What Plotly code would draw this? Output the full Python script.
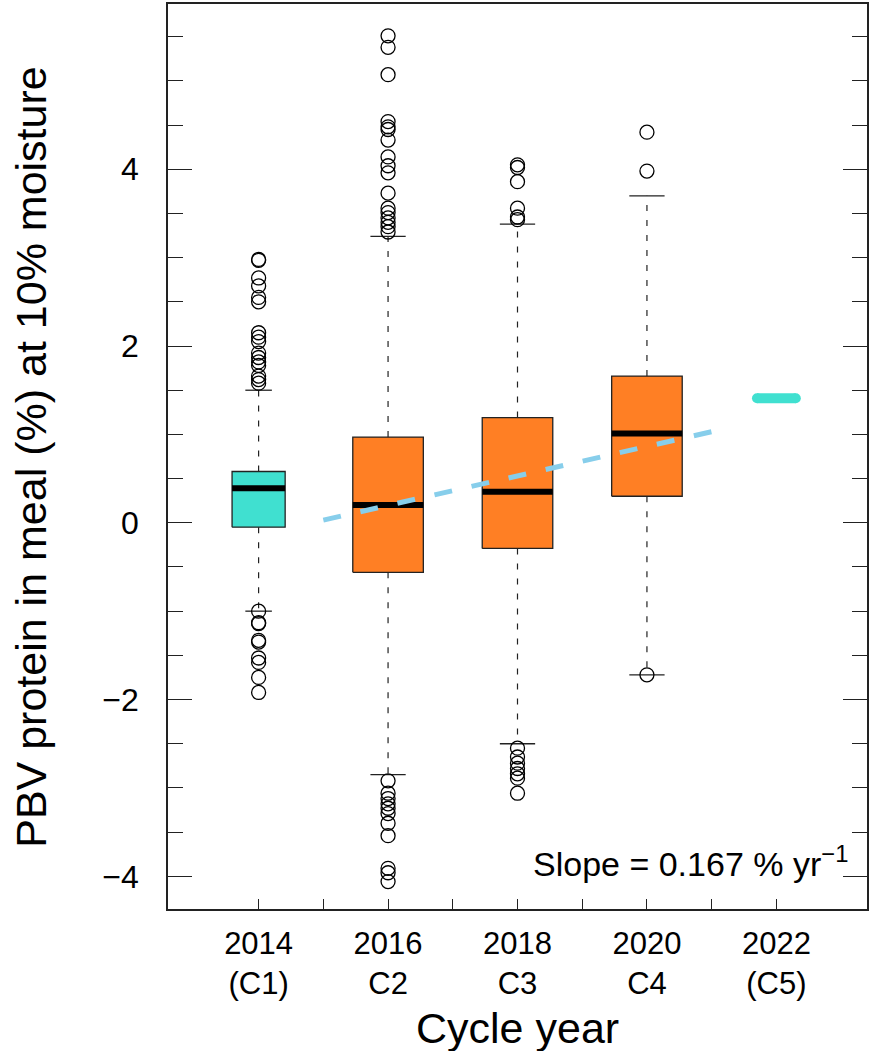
import plotly.graph_objects as go

# ---------------- data ----------------
years = [2014, 2016, 2018, 2020]
cycle_labels = ["2014<br>(C1)", "2016<br>C2", "2018<br>C3", "2020<br>C4", "2022<br>(C5)"]
label_years = [2014, 2016, 2018, 2020, 2022]
minor_years = [2015, 2017, 2019, 2021]
box_colors = ["#40E0D0", "#FF7F24", "#FF7F24", "#FF7F24"]
box_widths = [0.82, 1.09, 1.09, 1.09]

q1 = [-0.05, -0.56, -0.29, 0.30]
median = [0.39, 0.20, 0.35, 1.01]
q3 = [0.58, 0.97, 1.19, 1.66]
whisk_low = [-1.00, -2.85, -2.50, -1.72]
whisk_high = [1.50, 3.24, 3.38, 3.70]

outliers = {
    2014: [2.98, 2.97, 2.77, 2.68, 2.55, 2.50, 2.15, 2.10, 2.05, 1.92, 1.87, 1.82, 1.78, 1.66, 1.62, 1.58,
           -1.00, -1.13, -1.14, -1.33, -1.35, -1.53, -1.58, -1.75, -1.92],
    2016: [5.51, 5.38, 5.07, 4.54, 4.48, 4.45, 4.33, 4.14, 4.04, 3.96, 3.73, 3.56, 3.51, 3.45, 3.40, 3.35, 3.29,
           -2.92, -3.06, -3.12, -3.18, -3.23, -3.29, -3.40, -3.54, -3.91, -3.96, -4.06],
    2018: [4.05, 4.02, 3.86, 3.56, 3.46, 3.43,
           -2.55, -2.65, -2.72, -2.78, -2.84, -2.89, -3.06],
    2020: [4.42, 3.98, -1.72],
}

trend_x = [2015, 2021]
trend_y = [0.03, 1.03]

pred_year = 2022
pred_value = 1.41

slope_text = "Slope = 0.167 % yr<sup>−1</sup>"

# ---------------- figure ----------------
FONT = "Liberation Sans, Arial, sans-serif"
DARK = "#222222"
fig = go.Figure()

# boxes
for yr, lo, hi, w, col in zip(years, q1, q3, box_widths, box_colors):
    fig.add_trace(go.Scatter(
        x=[yr - w / 2, yr + w / 2, yr + w / 2, yr - w / 2, yr - w / 2],
        y=[lo, lo, hi, hi, lo],
        mode="lines", fill="toself", fillcolor=col,
        line=dict(color=DARK, width=1.3), hoverinfo="skip", showlegend=False))

# whiskers (dashed)
wx, wy = [], []
for yr, lo, hi, wl, wh in zip(years, q1, q3, whisk_low, whisk_high):
    wx += [yr, yr, None, yr, yr, None]
    wy += [hi, wh, None, lo, wl, None]
fig.add_trace(go.Scatter(x=wx, y=wy, mode="lines",
                         line=dict(color=DARK, width=1.2, dash="6px,9px"),
                         hoverinfo="skip", showlegend=False))

# caps
cx, cy = [], []
for yr, w, wl, wh in zip(years, box_widths, whisk_low, whisk_high):
    cx += [yr - w / 4, yr + w / 4, None, yr - w / 4, yr + w / 4, None]
    cy += [wh, wh, None, wl, wl, None]
fig.add_trace(go.Scatter(x=cx, y=cy, mode="lines",
                         line=dict(color=DARK, width=1.3),
                         hoverinfo="skip", showlegend=False))

# medians
mx, my = [], []
for yr, w, m in zip(years, box_widths, median):
    mx += [yr - w / 2, yr + w / 2, None]
    my += [m, m, None]
fig.add_trace(go.Scatter(x=mx, y=my, mode="lines",
                         line=dict(color="black", width=6),
                         hoverinfo="skip", showlegend=False))

# outliers
ox, oy = [], []
for yr in years:
    ox += [yr] * len(outliers[yr])
    oy += outliers[yr]
fig.add_trace(go.Scatter(x=ox, y=oy, mode="markers",
                         marker=dict(symbol="circle-open", size=14,
                                     line=dict(color="black", width=1.3), color="black"),
                         hoverinfo="skip", showlegend=False))

# trend line
fig.add_trace(go.Scatter(x=trend_x, y=trend_y, mode="lines",
                         line=dict(color="#87CEEB", width=5, dash="18px,20px"),
                         hoverinfo="skip", showlegend=False))

# 2022 predicted value
fig.add_trace(go.Scatter(x=[pred_year - 0.3, pred_year + 0.3], y=[pred_value, pred_value],
                         mode="lines+markers",
                         line=dict(color="#40E0D0", width=10),
                         marker=dict(color="#40E0D0", size=10, symbol="circle"),
                         hoverinfo="skip", showlegend=False))

fig.update_layout(
    width=871, height=1051,
    margin=dict(l=168, r=2, t=4, b=142),
    plot_bgcolor="white", paper_bgcolor="white",
    font=dict(family=FONT, color="black"),
    xaxis=dict(range=[2012.6, 2023.4], tickmode="array", tickvals=label_years, ticktext=cycle_labels,
               ticks="inside", ticklen=10, tickwidth=1.2, tickcolor=DARK,
               minor=dict(tickmode="array", tickvals=minor_years, ticks="inside", ticklen=10,
                          tickwidth=1.2, tickcolor=DARK),
               showline=True, linecolor=DARK, linewidth=1.5, mirror=True,
               showgrid=False, zeroline=False, tickfont=dict(size=31, family=FONT),
               ticklabelstandoff=6),
    yaxis=dict(range=[-4.37, 5.87], tickmode="linear", tick0=0, dtick=2,
               ticks="inside", ticklen=24, tickwidth=1.2, tickcolor=DARK,
               minor=dict(dtick=0.5, tick0=0, ticks="inside", ticklen=15, tickwidth=1.2, tickcolor=DARK),
               showline=True, linecolor=DARK, linewidth=1.5, mirror="ticks",
               showgrid=False, zeroline=False, tickfont=dict(size=32, family=FONT),
               ticklabelstandoff=21),
    annotations=[
        dict(text="PBV protein in meal (%) at 10% moisture", xref="paper", yref="paper",
             x=-0.197, y=0.5, textangle=-90, showarrow=False, xanchor="center", yanchor="middle",
             font=dict(size=43, family=FONT)),
        dict(text="Cycle year", xref="paper", yref="paper", x=0.5, y=-0.131,
             showarrow=False, xanchor="center", yanchor="middle", font=dict(size=43, family=FONT)),
        dict(text=slope_text, xref="paper", yref="paper", x=0.976, y=0.052,
             showarrow=False, xanchor="right", yanchor="middle", font=dict(size=34, family=FONT)),
    ],
)

fig.write_html("out.html")
